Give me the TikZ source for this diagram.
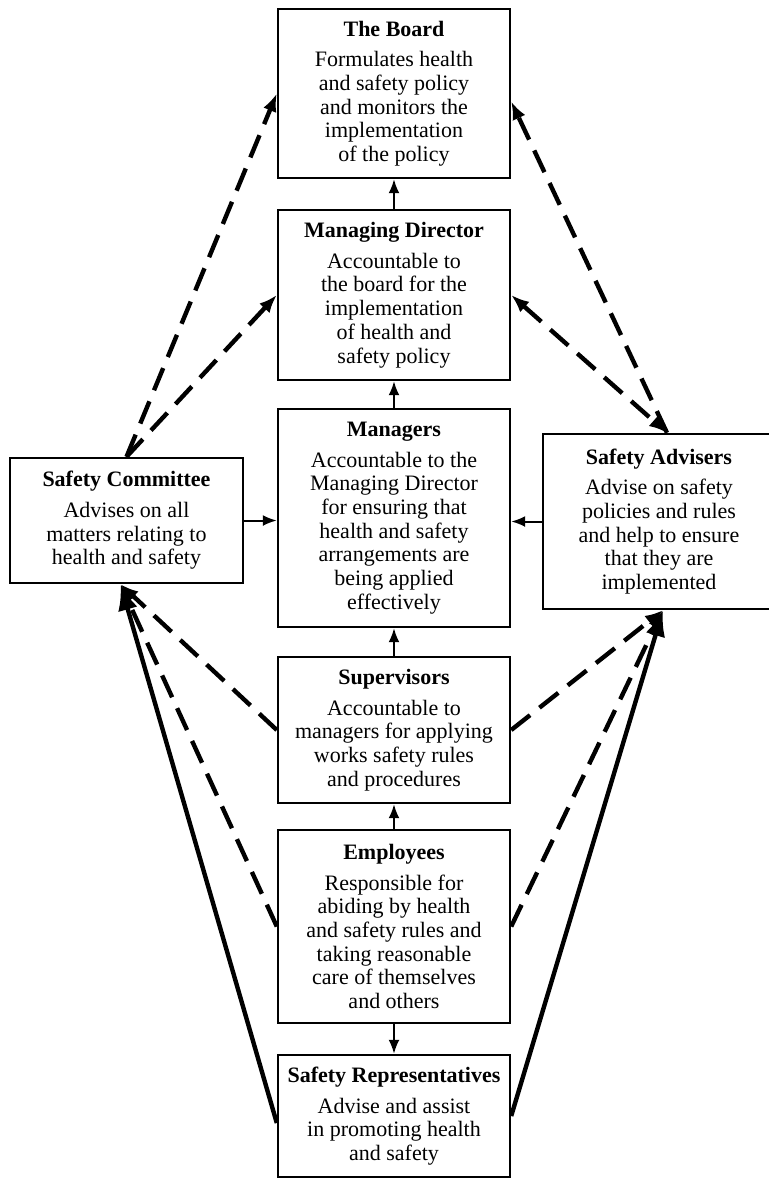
\documentclass[tikz,border=0pt]{standalone}
\usepackage{fontspec}
\setmainfont{Liberation Serif}
\usetikzlibrary{arrows.meta}
\begin{document}
\begin{tikzpicture}[x=0.5pt,y=-0.5pt,
  box/.style={draw, line width=1.2pt, rectangle, inner sep=0pt, align=center,
    font=\fontsize{11}{11.85}\selectfont},
  dsh/.style={line width=2.2pt, dash pattern=on 12pt off 6pt},
  sol/.style={line width=2.2pt},
  vert/.style={line width=1pt, -{Latex[length=7pt,width=5.5pt]}},
  dtip/.tip={Latex[length=9pt,width=7pt]},
  btip/.tip={Latex[length=13pt,width=10pt]}
]
\useasboundingbox (0,0) rectangle (768,1180);

\node[box, minimum width=116pt, minimum height=84.5pt] (board) at (394,93.5)
  {\textbf{The Board}\\[3.5pt]Formulates health\\and safety policy\\and monitors the\\implementation\\of the policy};
\node[box, minimum width=116pt, minimum height=85pt] (md) at (394,295)
  {\textbf{Managing Director}\\[3.5pt]Accountable to\\the board for the\\implementation\\of health and\\safety policy};
\node[box, minimum width=116pt, minimum height=109pt] (mgr) at (394,518)
  {\textbf{Managers}\\[3.5pt]Accountable to the\\Managing Director\\for ensuring that\\health and safety\\arrangements are\\being applied\\effectively};
\node[box, minimum width=116pt, minimum height=73pt] (sup) at (394,730)
  {\textbf{Supervisors}\\[3.5pt]Accountable to\\managers for applying\\works safety rules\\and procedures};
\node[box, minimum width=116pt, minimum height=96.5pt] (emp) at (394,926.5)
  {\textbf{Employees}\\[3.5pt]Responsible for\\abiding by health\\and safety rules and\\taking reasonable\\care of themselves\\and others};
\node[box, minimum width=116pt, minimum height=61pt] (rep) at (394,1116)
  {\textbf{Safety Representatives}\\[3.5pt]Advise and assist\\in promoting health\\and safety};
\node[box, minimum width=116.5pt, minimum height=62.5pt] (com) at (126.5,520.5)
  {\textbf{Safety Committee}\\[3.5pt]Advises on all\\matters relating to\\health and safety};
\node[box, minimum width=116pt, minimum height=87.5pt] (adv) at (659,521.5)
  {\textbf{Safety Advisers}\\[3.5pt]Advise on safety\\policies and rules\\and help to ensure\\that they are\\implemented};

% vertical chain
\draw[vert] (md.north) -- (board.south);
\draw[vert] (mgr.north) -- (md.south);
\draw[vert] (sup.north) -- (mgr.south);
\draw[vert] (emp.north) -- (sup.south);
\draw[vert] (emp.south) -- (rep.north);
\draw[vert] (com.east) -- (com.east -| mgr.west);
\draw[vert] (adv.west) -- (adv.west -| mgr.east);

% upper dashed links
\draw[dsh, -dtip] (com.north) -- (board.west);
\draw[dsh, -dtip] (com.north) -- (md.west);
\draw[dsh, -dtip] ([xshift=4pt]adv.north) -- ([yshift=-4pt]board.east);
\draw[dsh, dtip-dtip] (md.east) -- ([xshift=4pt]adv.north);

% lower links to Safety Committee
\draw[dsh, -dtip] (sup.west) -- ([xshift=-3pt]com.south);
\draw[dsh, -dtip] (emp.west) -- ([xshift=-3pt]com.south);
\draw[sol, -btip] ([yshift=-3.5pt]rep.west) -- ([xshift=-3pt]com.south);

% lower links to Safety Advisers
\draw[dsh, -dtip] (sup.east) -- ([xshift=2pt]adv.south);
\draw[dsh, -dtip] (emp.east) -- ([xshift=2pt]adv.south);
\draw[sol, -btip] (rep.east) -- ([xshift=2pt]adv.south);
\end{tikzpicture}
\end{document}
